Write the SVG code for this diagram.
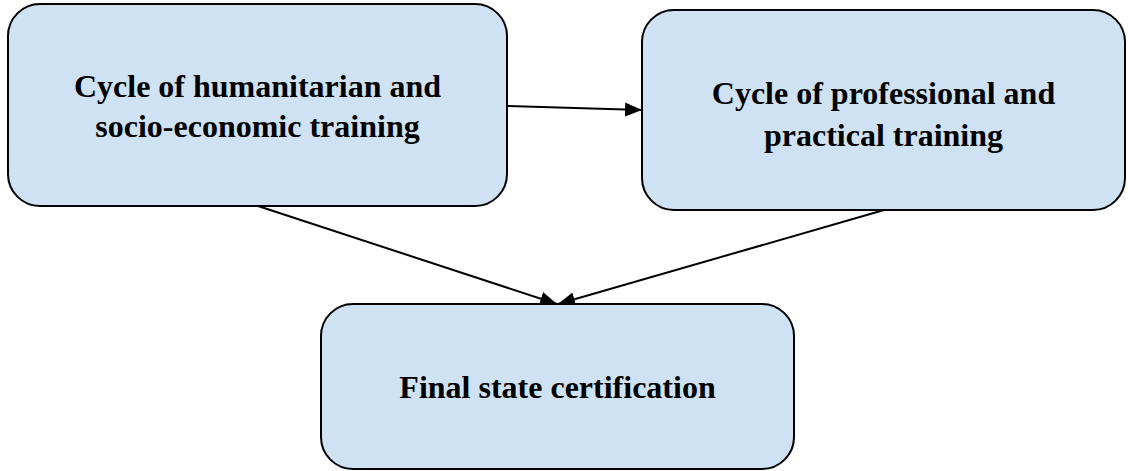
<svg xmlns="http://www.w3.org/2000/svg" width="1128" height="471" viewBox="0 0 1128 471">
<defs>
<style>
.box{fill:#cfe2f3;stroke:#000;stroke-width:2}
.lbl{font-family:"Liberation Serif","Times New Roman",serif;font-weight:bold;font-size:32px;fill:#000;text-anchor:middle}
.conn{stroke:#000;stroke-width:2;fill:none;marker-end:url(#arr)}
</style>
<marker id="arr" markerUnits="userSpaceOnUse" markerWidth="18" markerHeight="14" refX="17" refY="7" orient="auto">
<path d="M0,0 L17,7 L0,14 Z" fill="#000"/>
</marker>
</defs>
<rect width="1128" height="471" fill="#fff"/>
<g id="connectors">
<line class="conn" x1="507" y1="106" x2="642" y2="110"/>
<line class="conn" x1="258" y1="206" x2="557" y2="304"/>
<line class="conn" x1="884" y1="210" x2="558" y2="304"/>
</g>
<g id="node1">
<rect class="box" x="8" y="4" width="499" height="202" rx="32" ry="32"/>
<text class="lbl" x="257.5" y="97">Cycle of humanitarian and</text>
<text class="lbl" x="257.5" y="137">socio-economic training</text>
</g>
<g id="node2">
<rect class="box" x="642" y="10" width="483" height="200" rx="32" ry="32"/>
<text class="lbl" x="883.5" y="104">Cycle of professional and</text>
<text class="lbl" x="883.5" y="146">practical training</text>
</g>
<g id="node3">
<rect class="box" x="321" y="304" width="473" height="165" rx="32" ry="32"/>
<text class="lbl" x="557.5" y="398">Final state certification</text>
</g>
</svg>
